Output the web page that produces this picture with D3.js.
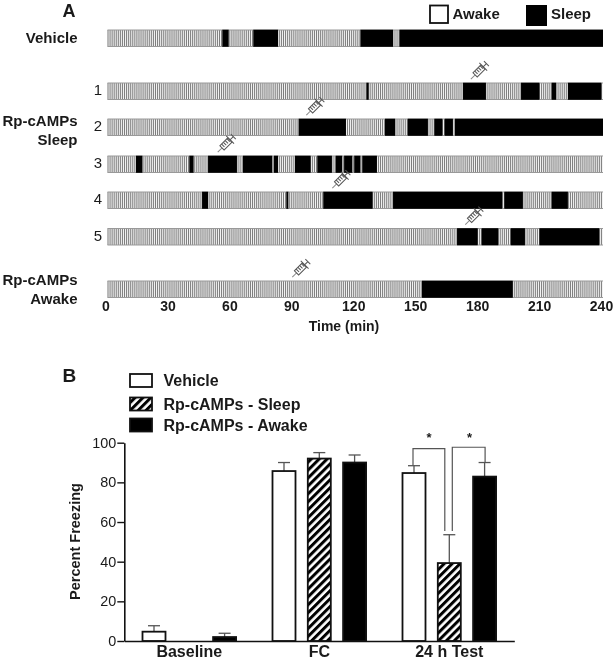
<!DOCTYPE html>
<html>
<head>
<meta charset="utf-8">
<script src="https://cdn.jsdelivr.net/npm/d3@7"></script>
<style>
    body { margin: 0; background: #fff; }
    svg { display: block; filter: blur(0.35px); }
    text { font-family: "Liberation Sans", Arial, sans-serif; fill: #1a1a1a; }
</style>
</head>
<body>
<div id="chart"></div>
<script>
// Panel A: sleep episodes per animal, [start, end] in minutes
const vehicleSleep = [[55.6, 58.7], [70.6, 82.6], [122.5, 138.3], [141.4, 240]];
const rp1Sleep = [[125.4, 126.5], [172.2, 183.3], [200.3, 209.2], [215.1, 217.3], [223, 239.2]];
const rp2Sleep = [[92.6, 115.5], [134.4, 139.3], [145.4, 155.2], [158.3, 162.2], [163.3, 167.3], [168.3, 240]];
const rp3Sleep = [[13.8, 16.9], [39.6, 41.7], [48.7, 62.7], [65.6, 79.8], [80.6, 82.6], [90.8, 98.4],
    [101.6, 108.7], [110.5, 113.7], [114.6, 118.6], [119.5, 122.5], [123.4, 130.5]];
const rp4Sleep = [[45.8, 48.7], [86.6, 87.6], [104.5, 128.4], [138.3, 191.2], [192.2, 201.2], [215.1, 223]];
const rp5Sleep = [[169.3, 179.3], [181.2, 189.3], [195.3, 202.2], [209.2, 238.2]];
const awakeSleep = [[152.3, 196.3]];

const rowSleep = [vehicleSleep, rp1Sleep, rp2Sleep, rp3Sleep, rp4Sleep, rp5Sleep, awakeSleep];
const rowNumbers = ["", "1", "2", "3", "4", "5", ""];
const injectionTimes = [null, 176, 96.3, 53.4, 108.9, 173.3, 89.5]; // minutes
const timeTicks = [0, 30, 60, 90, 120, 150, 180, 210, 240];

// Panel B: percent freezing
const phases = ["Baseline", "FC", "24 h Test"];
const groups = ["Vehicle", "Rp-cAMPs - Sleep", "Rp-cAMPs - Awake"];
const vehicleMeans = [4.7, 85.7, 84.7];
const sleepMeans = [0, 92, 39.3];
const awakeMeans = [2, 90, 82.9];
const vehicleErrTops = [7.7, 90, 88.4];
const sleepErrTops = [0, 95, 53.6];
const awakeErrTops = [3.9, 93.8, 90];
const freezingTicks = [0, 20, 40, 60, 80, 100];

const width = 613, height = 660;
const svg = d3.select("#chart").append("svg").attr("width", width).attr("height", height);

// hatch for the sleep group
const defs = svg.append("defs");
defs.append("pattern")
    .attr("id", "hatch")
    .attr("patternUnits", "userSpaceOnUse")
    .attr("width", 5.6).attr("height", 6)
    .attr("patternTransform", "rotate(45)")
    .call(p => p.append("rect").attr("width", 5.6).attr("height", 6).attr("fill", "#fff"))
    .call(p => p.append("rect").attr("width", 3).attr("height", 6).attr("fill", "#000"));

function label(x, y, str, size, weight, anchor) {
    return svg.append("text")
        .attr("x", x).attr("y", y)
        .attr("font-size", size)
        .attr("font-weight", weight || "bold")
        .attr("text-anchor", anchor || "start")
        .text(str);
}

// ---- Panel A ----
const x = d3.scaleLinear().domain([0, 240]).range([107.5, 603]);
const rowY = d3.scaleOrdinal().domain(d3.range(7)).range([30, 83, 119, 156, 192, 228.5, 281]);
const rowH = 16.5;

function drawSyringe(g) {
    g.attr("fill", "none").attr("stroke", "#555").attr("stroke-width", 1);
    g.append("line").attr("x1", 0).attr("x2", 7).attr("y1", 0).attr("y2", 0).attr("stroke", "#888");
    g.append("rect").attr("x", 6).attr("y", -3).attr("width", 11).attr("height", 6).attr("fill", "#fff");
    d3.range(8.5, 17, 2.5).forEach(p => g.append("line").attr("x1", p).attr("x2", p).attr("y1", -3).attr("y2", 1));
    g.append("line").attr("x1", 17.5).attr("x2", 17.5).attr("y1", -5.5).attr("y2", 5.5);
    g.append("line").attr("x1", 17).attr("x2", 22).attr("y1", 0).attr("y2", 0);
    g.append("line").attr("x1", 22).attr("x2", 22).attr("y1", -3.5).attr("y2", 3.5);
}

rowSleep.forEach((episodes, i) => {
    const y0 = rowY(i);
    const row = svg.append("g").attr("class", "row");

    row.append("rect")
        .attr("x", x(0)).attr("y", y0)
        .attr("width", x(240) - x(0)).attr("height", rowH)
        .attr("fill", "#f2f2f2");

    // awake background, one line per minute
    row.selectAll(".epoch").data(d3.range(0, 240)).enter().append("line")
        .attr("class", "epoch")
        .attr("x1", d => x(d) + 0.5).attr("x2", d => x(d) + 0.5)
        .attr("y1", y0).attr("y2", y0 + rowH)
        .attr("stroke", "#7c7c7c").attr("stroke-width", 1);

    [y0, y0 + rowH].forEach(yy => {
        row.append("line")
            .attr("x1", x(0)).attr("x2", x(240))
            .attr("y1", yy).attr("y2", yy)
            .attr("stroke", "#999").attr("stroke-width", 1.2);
    });

    row.selectAll(".episode").data(episodes).enter().append("rect")
        .attr("class", "episode")
        .attr("x", d => x(d[0])).attr("y", y0 - 0.3)
        .attr("width", d => x(d[1]) - x(d[0])).attr("height", rowH + 0.6)
        .attr("fill", "#000");

    if (rowNumbers[i]) {
        label(102, y0 + 12, rowNumbers[i], 15, "normal", "end");
    }
    if (injectionTimes[i] !== null) {
        svg.append("g")
            .attr("transform", `translate(${x(injectionTimes[i])},${y0 - 3.8}) rotate(-45)`)
            .call(drawSyringe);
    }
});

const timeAxis = svg.append("g")
    .attr("transform", `translate(-2,${rowY(6) + rowH})`)
    .call(d3.axisBottom(x).tickValues(timeTicks).tickSize(0).tickPadding(4));
timeAxis.select(".domain").remove();
timeAxis.selectAll("text").attr("font-size", 14).attr("font-weight", "bold")
    .attr("font-family", "Liberation Sans").attr("fill", "#1a1a1a");

label(344, 331, "Time (min)", 14, "bold", "middle");
label(62.5, 16.5, "A", 18);
label(77.5, 43, "Vehicle", 15, "bold", "end");
label(77.5, 125.5, "Rp-cAMPs", 15, "bold", "end");
label(77.5, 145, "Sleep", 15, "bold", "end");
label(77.5, 285, "Rp-cAMPs", 15, "bold", "end");
label(77.5, 304, "Awake", 15, "bold", "end");

svg.append("rect").attr("x", 430).attr("y", 5.5).attr("width", 18).attr("height", 17.5)
    .attr("fill", "#fff").attr("stroke", "#111").attr("stroke-width", 1.8);
label(452.5, 19, "Awake", 15);
svg.append("rect").attr("x", 526).attr("y", 5).attr("width", 21).attr("height", 21).attr("fill", "#000");
label(551, 19, "Sleep", 15);

// ---- Panel B ----
const y = d3.scaleLinear().domain([0, 100]).range([641, 442.7]);
const xPhase = d3.scaleBand().domain(phases).range([124.3, 514.3]);
const xGroup = d3.scalePoint().domain(groups).range([-35.3, 35.3]);
const barX = (phase, group) => xPhase(phase) + xPhase.bandwidth() / 2 + xGroup(group);

const groupMeans = [vehicleMeans, sleepMeans, awakeMeans];
const groupErrTops = [vehicleErrTops, sleepErrTops, awakeErrTops];
const groupFills = ["#fff", "url(#hatch)", "#000"];
const barW = 23;

groups.forEach((group, g) => {
    phases.forEach((phase, p) => {
        const cx = barX(phase, group);
        if (groupMeans[g][p] === 0) return; // no bar at baseline for this group

        // error bar goes behind the column
        svg.append("line")
            .attr("x1", cx).attr("x2", cx)
            .attr("y1", y(groupMeans[g][p])).attr("y2", y(groupErrTops[g][p]))
            .attr("stroke", "#555").attr("stroke-width", 1.3);
        svg.append("line")
            .attr("x1", cx - 6).attr("x2", cx + 6)
            .attr("y1", y(groupErrTops[g][p])).attr("y2", y(groupErrTops[g][p]))
            .attr("stroke", "#555").attr("stroke-width", 1.3);

        svg.append("rect")
            .attr("x", cx - barW / 2).attr("y", y(groupMeans[g][p]))
            .attr("width", barW).attr("height", y(0) - y(groupMeans[g][p]))
            .attr("fill", groupFills[g])
            .attr("stroke", "#111").attr("stroke-width", 1.8);
    });
});

const yAxis = svg.append("g")
    .attr("transform", `translate(${xPhase.range()[0]},0)`)
    .call(d3.axisLeft(y).tickValues(freezingTicks).tickSize(7).tickPadding(1).tickSizeOuter(0));
const xAxis = svg.append("g")
    .attr("transform", `translate(0,${y(0)})`)
    .call(d3.axisBottom(xPhase).tickSize(0).tickPadding(5));
[yAxis, xAxis].forEach(a => {
    a.select(".domain").attr("stroke", "#111").attr("stroke-width", 1.6);
    a.selectAll("line").attr("stroke", "#111").attr("stroke-width", 1.4);
    a.selectAll("text").attr("fill", "#1a1a1a").attr("font-family", "Liberation Sans");
});
yAxis.selectAll("text").attr("font-size", 14.4);
xAxis.selectAll("text").attr("font-size", 16).attr("font-weight", "bold");

svg.append("text")
    .attr("transform", "translate(80,541.5) rotate(-90)")
    .attr("text-anchor", "middle")
    .attr("font-size", 14.5).attr("font-weight", "bold")
    .text("Percent Freezing");

label(62.5, 381.5, "B", 19);

// legend
const legendTops = [374, 397.5, 418.5];
const legendBaselines = [386, 410, 430.5];
groups.forEach((group, g) => {
    svg.append("rect")
        .attr("x", 130).attr("y", legendTops[g])
        .attr("width", 22).attr("height", 13)
        .attr("fill", groupFills[g])
        .attr("stroke", "#111").attr("stroke-width", 1.8);
    label(163.5, legendBaselines[g], group, 16);
});

// significance brackets
const testX = groups.map(g => barX("24 h Test", g));
const bracketA = [[testX[0] - 1, 88.4], [testX[0] - 1, 97], [testX[1] - 4.5, 97], [testX[1] - 4.5, 55.5]];
const bracketB = [[testX[1] + 3, 55.5], [testX[1] + 3, 97.7], [testX[2] + 0.5, 97.7], [testX[2] + 0.5, 90]];
const bracketLine = d3.line().x(d => d[0]).y(d => y(d[1]));
[bracketA, bracketB].forEach(b => {
    svg.append("path")
        .attr("d", bracketLine(b))
        .attr("fill", "none").attr("stroke", "#555").attr("stroke-width", 1.2);
});
label((testX[0] + testX[1]) / 2 - 2.5, 442, "*", 13, "bold", "middle");
label((testX[1] + testX[2]) / 2 + 2.5, 442, "*", 13, "bold", "middle");
</script>
</body>
</html>
